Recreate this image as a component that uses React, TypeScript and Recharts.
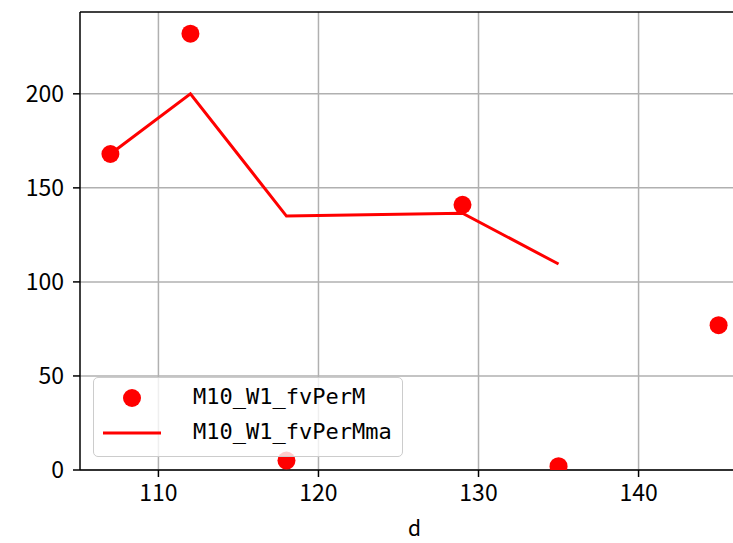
import { ComposedChart, Scatter, Line, XAxis, YAxis, CartesianGrid, ReferenceLine } from 'recharts';

const dValues = [107, 112, 118, 129, 135, 145];
const fvPerM = [168, 232, 5, 141, 2, 77];
const maDValues = [107, 112, 118, 129, 135];
const fvPerMma = [168, 200, 135, 136.5, 109.5];
const xTicks = [110, 120, 130, 140];
const yTicks = [0, 50, 100, 150, 200];

const scatterData = dValues.map((d, i) => ({ d, v: fvPerM[i] }));
const lineData = maDValues.map((d, i) => ({ d, v: fvPerMma[i] }));

const font = '"Noto Sans CJK JP", "Noto Sans", sans-serif';
const tickStyle = { fill: '#000', fontSize: 23, fontFamily: font };

const Dot = (p: any) => <circle cx={p.cx} cy={p.cy} r={9} fill="#ff0000" />;

export default function App() {
  return (
    <div style={{ position: 'absolute', left: 0, top: 0, width: 733, height: 543, overflow: 'hidden', background: '#fff' }}>
      <ComposedChart width={760} height={543} margin={{ top: 12, right: 11, bottom: 3, left: 8 }}>
        <CartesianGrid stroke="#b0b0b0" strokeWidth={1.5} horizontalValues={yTicks} verticalValues={xTicks} />
        <XAxis
          dataKey="d"
          type="number"
          domain={[105.1, 146.9]}
          ticks={xTicks}
          allowDataOverflow
          height={70}
          tick={tickStyle}
          tickSize={7}
          tickMargin={8}
          axisLine={{ stroke: '#000', strokeWidth: 1.5 }}
          tickLine={{ stroke: '#000', strokeWidth: 1.5 }}
          label={{ value: 'd', position: 'insideBottom', offset: 4, style: { fill: '#000', fontSize: 21, fontFamily: font } }}
        />
        <YAxis
          dataKey="v"
          type="number"
          domain={[0, 243.5]}
          ticks={yTicks}
          allowDataOverflow
          width={72}
          tick={tickStyle}
          tickSize={7}
          tickMargin={9}
          axisLine={{ stroke: '#000', strokeWidth: 1.5 }}
          tickLine={{ stroke: '#000', strokeWidth: 1.5 }}
        />
        <ReferenceLine y={243.5} stroke="#000" strokeWidth={1.5} />
        <Scatter data={scatterData} dataKey="v" fill="#ff0000" shape={Dot} isAnimationActive={false} />
        <Line data={lineData} dataKey="v" type="linear" stroke="#ff0000" strokeWidth={3} dot={false} isAnimationActive={false} />
      </ComposedChart>
      <div
        style={{
          position: 'absolute', left: 93, top: 377, width: 308, height: 78,
          border: '1.5px solid #cccccc', borderRadius: 5, background: 'rgba(255,255,255,0.8)',
          fontFamily: '"DejaVu Sans Mono", monospace', fontSize: 22, color: '#000',
        }}
      >
        <svg width={70} height={78} style={{ position: 'absolute', left: 0, top: 0 }}>
          <circle cx={38} cy={20} r={9} fill="#ff0000" />
          <line x1={9} x2={67} y1={55} y2={55} stroke="#ff0000" strokeWidth={3} />
        </svg>
        <div style={{ position: 'absolute', left: 99, top: 6, lineHeight: '26px', whiteSpace: 'nowrap' }}>M10_W1_fvPerM</div>
        <div style={{ position: 'absolute', left: 99, top: 41, lineHeight: '26px', whiteSpace: 'nowrap' }}>M10_W1_fvPerMma</div>
      </div>
    </div>
  );
}
